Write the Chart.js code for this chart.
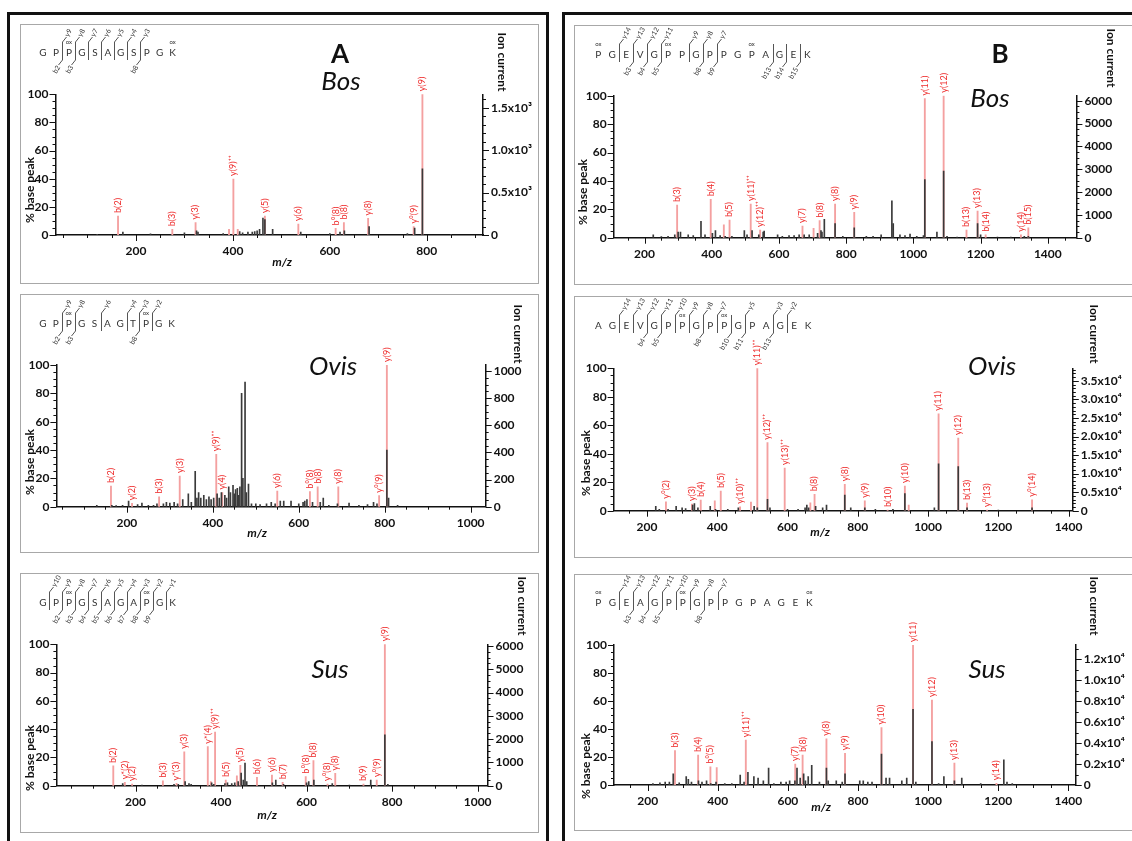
<!DOCTYPE html>
<html>
<head>
<meta charset="utf-8">
<script src="https://cdn.jsdelivr.net/npm/chart.js@4.4.1/dist/chart.umd.min.js"></script>
<style>
  html, body { margin: 0; padding: 0; background: #fff; }
  body { position: relative; width: 1132px; height: 841px; overflow: hidden; font-family: Lato, sans-serif; }
  .frame { position: absolute; border: 3px solid #111; border-bottom: none; }
  .box { position: absolute; border: 1px solid #a8a8a8; box-sizing: border-box; }
  canvas { position: absolute; }
</style>
</head>
<body>
<div class="frame" style="left:7px;top:12px;width:536px;height:840px"></div>
<div class="frame" style="left:562px;top:12px;width:600px;height:840px"></div>

<script>
// ---- shared tick labels ----
const mzTicks = [200, 400, 600, 800, 1000, 1200, 1400];
const pctTicks = [0, 20, 40, 60, 80, 100];

// ---- A / Bos ----
const aBosSeq = ['G','P','P','G','S','A','G','S','P','G','K'];
const aBosY = [9, 8, 7, 6, 5, 4, 3];
const aBosB = [2, 3, 8];
const aBosOx = [2, 10];
const aBosAnnMz  = [163, 275, 323, 392, 401, 410, 466, 535, 612, 629, 679, 773, 791];
const aBosAnnInt = [13.5, 4, 8.8, 4, 39.8, 4, 13.5, 7.8, 4.7, 8.8, 11.8, 6, 100];
const aBosAnnTxt = ['b(2)','b(3)','y(3)','','y(9)⁺⁺','','y(5)','y(6)','b°(8)','b(8)','y(8)','y°(9)','y(9)'];
const aBosMz  = [120, 173, 230, 300, 325, 328, 380, 414, 420, 431, 440, 445, 450, 455, 462, 466, 482, 540, 600, 621, 630, 681, 760, 775, 791, 850];
const aBosInt = [0.5, 2, 0.8, 1.5, 3, 2, 1, 2.5, 1.5, 2, 2, 2.5, 3, 4, 12, 11, 4, 2, 1, 2, 3, 6, 1, 5, 47, 0.5];
const aBosRight = [0, 500, 1000, 1500];
const aBosRightLab = ['0', '0.5x10³', '1.0x10³', '1.5x10³'];

// ---- A / Ovis ----
const aOvisSeq = ['G','P','P','G','S','A','G','T','P','G','K'];
const aOvisY = [9, 8, 6, 4, 3, 2];
const aOvisB = [2, 3, 8];
const aOvisOx = [2, 8];
const aOvisAnnMz  = [163, 212, 275, 323, 408, 422, 550, 626, 644, 692, 787, 805];
const aOvisAnnInt = [14.6, 2.4, 7, 21.6, 37, 10, 11, 10.6, 14, 14, 7.8, 100];
const aOvisAnnTxt = ['b(2)','y(2)','b(3)','y(3)','y(9)⁺⁺','y(4)','y(6)','b°(8)','b(8)','y(8)','y°(9)','y(9)'];
const aOvisMz  = [130, 165, 175, 190, 204, 225, 235, 250, 262, 270, 285, 292, 300, 310, 318, 330, 343, 350, 359, 363, 367, 372, 379, 385, 391, 396, 402, 410, 415, 420, 428, 432, 437, 441, 447, 450, 453, 457, 460, 463, 467, 470, 475, 478, 483, 490, 500, 510, 525, 536, 545, 557, 565, 582, 600, 610, 614, 619, 632, 650, 657, 670, 690, 717, 740, 760, 774, 782, 805, 809, 830];
const aOvisInt = [1, 1, 0.8, 1, 4, 1.5, 2.5, 1, 1, 2, 2, 3, 2.5, 3, 2, 5, 9, 3, 25, 6, 10, 6, 8, 5, 7, 5, 6, 9, 6, 10, 8, 6, 14, 10, 15, 9, 12, 13, 8, 14, 80, 20, 88, 10, 16, 2, 2, 1.5, 2, 3, 2, 4, 4, 4, 2, 3, 4, 5, 3, 3, 6, 1, 2, 2.5, 1, 1.5, 3, 2, 40, 6, 1];
const aOvisRight = [0, 200, 400, 600, 800, 1000];
const aOvisRightLab = ['0', '200', '400', '600', '800', '1000'];

// ---- A / Sus ----
const aSusSeq = ['G','P','P','G','S','A','G','A','P','G','K'];
const aSusY = [10, 9, 8, 7, 6, 5, 4, 3, 2, 1];
const aSusB = [2, 3, 4, 5, 6, 7, 8, 9];
const aSusOx = [2, 8];
const aSusAnnMz  = [148, 175, 192, 264, 296, 314, 369, 376, 386, 411, 437, 445, 484, 519, 544, 598, 616, 649, 667, 733, 764, 783];
const aSusAnnInt = [14, 2.4, 1.2, 3.5, 1.6, 24, 27.6, 3, 38, 4, 7, 14.4, 6, 7.5, 2.4, 6.4, 17.7, 1.2, 8.7, 1.2, 4, 100];
const aSusAnnTxt = ['b(2)','y*(2)','y(2)','b(3)','y*(3)','y(3)','y*(4)','','y(9)⁺⁺','b(5)','','y(5)','b(6)','y(6)','b(7)','b°(8)','b(8)','y°(8)','y(8)','b(9)','y°(9)','y(9)'];
const aSusMz  = [170, 215, 290, 300, 316, 325, 330, 378, 383, 409, 415, 425, 432, 440, 447, 452, 456, 460, 520, 528, 546, 600, 605, 617, 660, 700, 750, 783, 790];
const aSusInt = [1.5, 0.5, 1, 1, 3, 1.5, 1, 2, 1, 1.5, 2, 1.5, 2, 3, 9, 4, 16, 3, 2, 4, 1, 2, 3, 4, 1.5, 0.5, 4, 36, 1];
const aSusRight = [0, 1000, 2000, 3000, 4000, 5000, 6000];
const aSusRightLab = ['0', '1000', '2000', '3000', '4000', '5000', '6000'];

// ---- B / Bos ----
const bBosSeq = ['P','G','E','V','G','P','P','G','P','P','G','P','A','G','E','K'];
const bBosY = [14, 13, 12, 11, 9, 8, 7];
const bBosB = [3, 4, 5, 8, 9, 13, 14, 15];
const bBosOx = [0, 5, 11];
const bBosAnnMz  = [297, 397, 436, 453, 516, 544, 670, 703, 721, 767, 824, 1034, 1090, 1158, 1191, 1215, 1320, 1342];
const bBosAnnInt = [23, 27, 9, 12.4, 23.7, 5.4, 8.2, 6.6, 12, 23.7, 17.8, 98, 100, 5.4, 18.8, 2, 2, 7];
const bBosAnnTxt = ['b(3)','b(4)','','b(5)','y(11)⁺⁺','y(12)⁺⁺','y(7)','','b(8)','y(8)','y(9)','y(11)','y(12)','b(13)','y(13)','b(14)','y(14)','b(15)'];
const bBosMz  = [226, 250, 270, 290, 300, 307, 330, 345, 368, 380, 402, 411, 425, 440, 460, 497, 505, 520, 540, 553, 556, 596, 610, 630, 645, 660, 675, 690, 715, 725, 728, 735, 767, 790, 824, 860, 880, 904, 936, 940, 960, 975, 990, 1010, 1030, 1034, 1070, 1090, 1100, 1130, 1191, 1200, 1250, 1290, 1330, 1342];
const bBosInt = [2, 0.8, 1, 2, 4, 4, 2, 1.5, 11.5, 2, 3, 5, 1.5, 1, 1, 5, 2, 5, 2, 4, 4.6, 2, 1, 1.5, 1.5, 2, 2, 2, 3, 5, 4, 13, 10, 1, 7, 1, 1, 2, 26, 10, 2, 1.5, 2.5, 1, 1.5, 41, 4, 47, 1, 0.5, 10, 2, 0.5, 0.5, 1, 1];
const bBosRight = [0, 1000, 2000, 3000, 4000, 5000, 6000];
const bBosRightLab = ['0', '1000', '2000', '3000', '4000', '5000', '6000'];

// ---- B / Ovis ----
const bOvisSeq = ['A','G','E','V','G','P','P','G','P','P','G','P','A','G','E','K'];
const bOvisY = [14, 13, 12, 11, 10, 9, 8, 7, 5, 3, 2];
const bOvisB = [4, 5, 8, 10, 11, 13];
const bOvisOx = [6, 9];
const bOvisAnnMz  = [254, 328, 353, 393, 410, 465, 496, 514, 543, 592, 665, 677, 763, 820, 885, 934, 945, 1030, 1086, 1111, 1168, 1296];
const bOvisAnnInt = [6.3, 4.7, 7.5, 7, 13.8, 2.8, 6, 100, 47.8, 30, 5.6, 11.5, 18.5, 7, 0.5, 17.3, 4, 68, 51, 5.4, 0.5, 7.7];
const bOvisAnnTxt = ['y°(2)','y(3)','b(4)','','b(5)','y(10)⁺⁺','','y(11)⁺⁺','y(12)⁺⁺','y(13)⁺⁺','','b(8)','y(8)','y(9)','b(10)','y(10)','','y(11)','y(12)','b(13)','y°(13)','y°(14)'];
const bOvisMz  = [225, 235, 260, 283, 300, 310, 330, 335, 345, 380, 395, 430, 460, 505, 514, 543, 550, 600, 630, 650, 655, 660, 680, 700, 711, 763, 780, 820, 850, 900, 934, 1018, 1030, 1086, 1111, 1200, 1296];
const bOvisInt = [3, 1, 1, 3, 2, 1.5, 4, 5, 2, 3, 1, 1, 2, 3, 2, 8, 2, 1, 1, 2, 4, 2, 3, 2, 4, 11, 2, 2, 1, 1, 12, 2, 33, 31, 2, 0.5, 2];
const bOvisRight = [0, 5000, 10000, 15000, 20000, 25000, 30000, 35000];
const bOvisRightLab = ['0', '0.5x10⁴', '1.0x10⁴', '1.5x10⁴', '2.0x10⁴', '2.5x10⁴', '3.0x10⁴', '3.5x10⁴'];

// ---- B / Sus ----
const bSusSeq = ['P','G','E','A','G','P','P','G','P','P','G','P','A','G','E','K'];
const bSusY = [14, 13, 12, 11, 10, 9, 8, 7];
const bSusB = [3, 4, 5, 8];
const bSusOx = [0, 6, 15];
const bSusAnnMz  = [278, 344, 379, 397, 480, 621, 642, 710, 763, 867, 957, 1011, 1075, 1195];
const bSusAnnInt = [24.5, 21.4, 13, 12.4, 32, 15, 21.4, 33, 22.6, 41, 100, 60.7, 15.7, 1.2];
const bSusAnnTxt = ['b(3)','b(4)','b°(5)','','y(11)⁺⁺','y(7)','b(8)','y(8)','y(9)','y(10)','y(11)','y(12)','y(13)','y(14)'];
const bSusMz  = [215, 235, 250, 262, 273, 290, 310, 316, 325, 345, 355, 368, 380, 395, 420, 440, 464, 475, 486, 503, 515, 530, 545, 560, 580, 595, 605, 620, 626, 635, 645, 650, 658, 668, 690, 710, 715, 738, 755, 763, 805, 815, 828, 840, 867, 880, 890, 925, 939, 957, 965, 1011, 1030, 1045, 1075, 1096, 1150, 1216, 1225, 1240];
const bSusInt = [1, 1.5, 2, 2, 8, 1.5, 6, 4, 2, 3, 2, 3, 1, 2, 1, 1, 7, 2, 9, 6, 5, 3, 12, 1, 2, 2, 3, 3, 12, 5, 8, 3, 6, 14, 2, 12, 3, 3, 2, 8, 3, 3, 2, 2, 22, 5, 5, 3, 5, 54, 2, 31, 1, 6, 3, 5, 1, 18, 2, 1];
const bSusRight = [0, 2000, 4000, 6000, 8000, 10000, 12000];
const bSusRightLab = ['0', '0.2x10⁴', '0.4x10⁴', '0.6x10⁴', '0.8x10⁴', '1.0x10⁴', '1.2x10⁴'];

const FONT = 'Lato, "DejaVu Sans", sans-serif';

const panels = [
  {box: [20, 24, 519, 260], area: [55.5, 483, 94.3, 235], xMin: 34, xMax: 916, rMax: 1657, rMinor: 100,
   mz: aBosMz, int: aBosInt, annMz: aBosAnnMz, annInt: aBosAnnInt, annTxt: aBosAnnTxt, rTicks: aBosRight, rLab: aBosRightLab,
   seq: {res: aBosSeq, y: aBosY, b: aBosB, ox: aBosOx, x0: 43, dx: 12.96, yy: 53},
   name: 'Bos', namePos: [341, 82], letter: 'A', letterPos: [340, 55], ylab: [30, 190], mzlab: [282, 262], ion: [502, 62]},
  {box: [20, 294, 519, 259], area: [56.4, 485.7, 365, 506.7], xMin: 36, xMax: 1035, rMax: 1044, rMinor: 50,
   mz: aOvisMz, int: aOvisInt, annMz: aOvisAnnMz, annInt: aOvisAnnInt, annTxt: aOvisAnnTxt, rTicks: aOvisRight, rLab: aOvisRightLab,
   seq: {res: aOvisSeq, y: aOvisY, b: aOvisB, ox: aOvisOx, x0: 43, dx: 12.86, yy: 324},
   name: 'Ovis', namePos: [333, 367], ylab: [30, 462], mzlab: [257, 533], ion: [518, 334]},
  {box: [20, 573, 519, 260], area: [56.4, 487.5, 644.3, 785.7], xMin: 15, xMax: 1023, rMax: 6070, rMinor: 250,
   mz: aSusMz, int: aSusInt, annMz: aSusAnnMz, annInt: aSusAnnInt, annTxt: aSusAnnTxt, rTicks: aSusRight, rLab: aSusRightLab,
   seq: {res: aSusSeq, y: aSusY, b: aSusB, ox: aSusOx, x0: 43, dx: 12.95, yy: 603},
   name: 'Sus', namePos: [330, 670], ylab: [30, 758], mzlab: [267, 815], ion: [522, 606]},
  {box: [574, 25, 560, 260], area: [613.6, 1076.4, 95.7, 237.7], xMin: 108, xMax: 1485, rMax: 6220, rMinor: 250,
   mz: bBosMz, int: bBosInt, annMz: bBosAnnMz, annInt: bBosAnnInt, annTxt: bBosAnnTxt, rTicks: bBosRight, rLab: bBosRightLab,
   seq: {res: bBosSeq, y: bBosY, b: bBosB, ox: bBosOx, x0: 598.3, dx: 13.94, yy: 55},
   name: 'Bos', namePos: [990, 99], letter: 'B', letterPos: [1000, 55], ylab: [583, 192], mzlab: null, ion: [1111, 58]},
  {box: [574, 296, 560, 262], area: [613.6, 1072.8, 368.3, 510.7], xMin: 105, xMax: 1412, rMax: 38400, rMinor: 1000,
   mz: bOvisMz, int: bOvisInt, annMz: bOvisAnnMz, annInt: bOvisAnnInt, annTxt: bOvisAnnTxt, rTicks: bOvisRight, rLab: bOvisRightLab,
   seq: {res: bOvisSeq, y: bOvisY, b: bOvisB, ox: bOvisOx, x0: 598.3, dx: 13.99, yy: 326},
   name: 'Ovis', namePos: [992, 367], ylab: [586, 463], mzlab: [820, 532], ion: [1094, 334]},
  {box: [574, 574, 560, 257], area: [614, 1075.7, 645, 785], xMin: 104, xMax: 1421, rMax: 13350, rMinor: 1000,
   mz: bSusMz, int: bSusInt, annMz: bSusAnnMz, annInt: bSusAnnInt, annTxt: bSusAnnTxt, rTicks: bSusRight, rLab: bSusRightLab,
   seq: {res: bSusSeq, y: bSusY, b: bSusB, ox: bSusOx, x0: 598.3, dx: 14.07, yy: 603},
   name: 'Sus', namePos: [987, 670], ylab: [586, 766], mzlab: [821, 807], ion: [1094, 606]}
];

function line(ctx, x1, y1, x2, y2) {
  ctx.beginPath(); ctx.moveTo(x1, y1); ctx.lineTo(x2, y2); ctx.stroke();
}

// sequence with fragment brackets (coordinates local to the canvas)
function drawSeq(ctx, s, ox, oy) {
  const N = s.res.length, x0 = s.x0 - ox, yy = s.yy - oy;
  ctx.fillStyle = '#333';
  ctx.font = '10px ' + FONT;
  ctx.textAlign = 'center'; ctx.textBaseline = 'middle';
  s.res.forEach((r, i) => ctx.fillText(r, x0 + i * s.dx, yy));
  ctx.font = '6px ' + FONT;
  s.ox.forEach(i => ctx.fillText('ox', x0 + i * s.dx, yy - 11));
  ctx.strokeStyle = '#555'; ctx.lineWidth = 1;
  const brk = {};
  s.y.forEach(n => { brk[N - 1 - n] = true; });
  s.b.forEach(m => { brk[m - 1] = true; });
  Object.keys(brk).forEach(k => {
    const bx = Math.round(x0 + (+k + 0.5) * s.dx) + 0.5;
    line(ctx, bx, yy - 11, bx, yy + 7);
  });
  ctx.font = '7px ' + FONT;
  s.y.forEach(n => {
    const bx = Math.round(x0 + (N - 1 - n + 0.5) * s.dx) + 0.5;
    line(ctx, bx, yy - 11, bx + 4, yy - 16);
    ctx.save(); ctx.translate(bx + 4, yy - 17); ctx.rotate(-Math.PI / 3);
    ctx.textAlign = 'left'; ctx.fillText('y' + n, 0, 0); ctx.restore();
  });
  s.b.forEach(m => {
    const bx = Math.round(x0 + (m - 1 + 0.5) * s.dx) + 0.5;
    line(ctx, bx, yy + 7, bx - 4, yy + 12);
    ctx.save(); ctx.translate(bx - 4, yy + 13); ctx.rotate(-Math.PI / 3);
    ctx.textAlign = 'right'; ctx.fillText('b' + m, 0, 0); ctx.restore();
  });
}

function makePanel(p) {
  const [bx, by, bw, bh] = p.box;
  const frame = document.createElement('div');
  frame.className = 'box';
  frame.style.cssText = `left:${bx}px;top:${by}px;width:${bw}px;height:${bh}px`;
  document.body.appendChild(frame);
  const cv = document.createElement('canvas');
  cv.width = bw; cv.height = bh;
  cv.style.cssText = `left:${bx}px;top:${by}px`;
  document.body.appendChild(cv);

  const L = p.area[0] - bx, R = bw - (p.area[1] - bx), T = p.area[2] - by, B = bh - (p.area[3] - by);
  const tickFont = {family: FONT, size: 12, weight: 'bold'};

  const deco = {
    id: 'deco',
    afterDraw(chart) {
      const ctx = chart.ctx, ca = chart.chartArea;
      const xs = chart.scales.x, ys = chart.scales.y, ys2 = chart.scales.y2;
      ctx.save();
      ctx.strokeStyle = '#111'; ctx.lineWidth = 1;
      // x ticks
      for (let v = Math.ceil(p.xMin / 50) * 50; v <= p.xMax; v += 50) {
        const px = Math.round(xs.getPixelForValue(v)) + 0.5;
        line(ctx, px, ca.bottom, px, ca.bottom + (v % 200 === 0 ? 6 : 3));
      }
      // left ticks
      for (let v = 0; v <= 100; v += 5) {
        const py = Math.round(ys.getPixelForValue(v)) + 0.5;
        line(ctx, ca.left, py, ca.left - (v % 20 === 0 ? 6 : 3), py);
      }
      // right ticks
      for (let v = 0; v <= p.rMax; v += p.rMinor) {
        const py = Math.round(ys2.getPixelForValue(v)) + 0.5;
        line(ctx, ca.right, py, ca.right + (p.rTicks.includes(v) ? 6 : 3), py);
      }
      // peak annotations
      ctx.fillStyle = '#ee2b2b';
      ctx.font = '9px ' + FONT;
      ctx.textAlign = 'left'; ctx.textBaseline = 'middle';
      p.annTxt.forEach((t, i) => {
        if (!t) return;
        const px = xs.getPixelForValue(p.annMz[i]);
        const py = ys.getPixelForValue(p.annInt[i]);
        ctx.save(); ctx.translate(px, py - 3); ctx.rotate(-Math.PI / 2);
        ctx.fillText(t, 0, 0); ctx.restore();
      });
      // sequence
      drawSeq(ctx, p.seq, bx, by);
      // titles
      ctx.fillStyle = '#111';
      ctx.textAlign = 'center'; ctx.textBaseline = 'middle';
      ctx.font = 'italic 26px ' + FONT;
      ctx.fillText(p.name, p.namePos[0] - bx, p.namePos[1] - by);
      if (p.letter) {
        ctx.font = 'bold 26px ' + FONT;
        ctx.fillText(p.letter, p.letterPos[0] - bx, p.letterPos[1] - by);
      }
      if (p.mzlab) {
        ctx.font = 'italic bold 12px ' + FONT;
        ctx.fillText('m/z', p.mzlab[0] - bx, p.mzlab[1] - by);
      }
      ctx.font = 'bold 12px ' + FONT;
      ctx.save(); ctx.translate(p.ylab[0] - bx, p.ylab[1] - by); ctx.rotate(-Math.PI / 2);
      ctx.fillText('% base peak', 0, 0); ctx.restore();
      ctx.save(); ctx.translate(p.ion[0] - bx, p.ion[1] - by); ctx.rotate(Math.PI / 2);
      ctx.fillText('Ion current', 0, 0); ctx.restore();
      ctx.restore();
    }
  };

  new Chart(cv, {
    type: 'bar',
    data: {
      datasets: [
        {data: p.mz.map((m, i) => ({x: m, y: p.int[i]})), backgroundColor: '#3a3a3a',
         barThickness: 1, grouped: false, xAxisID: 'x', yAxisID: 'y'},
        {data: p.annMz.map((m, i) => ({x: m, y: p.annInt[i]})), backgroundColor: '#f4a0a0',
         barThickness: 1.2, grouped: false, xAxisID: 'x', yAxisID: 'y'}
      ]
    },
    options: {
      responsive: false, animation: false, devicePixelRatio: 1,
      layout: {padding: {top: T, left: 0, right: 0, bottom: 0}},
      plugins: {legend: {display: false}, tooltip: {enabled: false}},
      scales: {
        x: {
          type: 'linear', min: p.xMin, max: p.xMax, offset: false,
          grid: {display: false, drawTicks: false},
          border: {display: true, color: '#111', width: 1.5},
          afterBuildTicks: s => { s.ticks = mzTicks.filter(v => v >= p.xMin && v <= p.xMax).map(v => ({value: v})); },
          afterFit: s => { s.height = B; },
          ticks: {font: tickFont, color: '#111', padding: 9, maxRotation: 0, autoSkip: false,
                  callback: v => String(v)}
        },
        y: {
          position: 'left', min: 0, max: 100,
          grid: {display: false, drawTicks: false},
          border: {display: true, color: '#111', width: 1.5},
          afterBuildTicks: s => { s.ticks = pctTicks.map(v => ({value: v})); },
          afterFit: s => { s.width = L; },
          ticks: {font: tickFont, color: '#111', padding: 7, callback: v => String(v)}
        },
        y2: {
          position: 'right', min: 0, max: p.rMax,
          grid: {display: false, drawTicks: false},
          border: {display: true, color: '#111', width: 1.5},
          afterBuildTicks: s => { s.ticks = p.rTicks.map(v => ({value: v})); },
          afterFit: s => { s.width = R; },
          ticks: {font: tickFont, color: '#111', padding: 8,
                  callback: v => p.rLab[p.rTicks.indexOf(v)]}
        }
      }
    },
    plugins: [deco]
  });
}

panels.forEach(makePanel);
</script>
</body>
</html>
